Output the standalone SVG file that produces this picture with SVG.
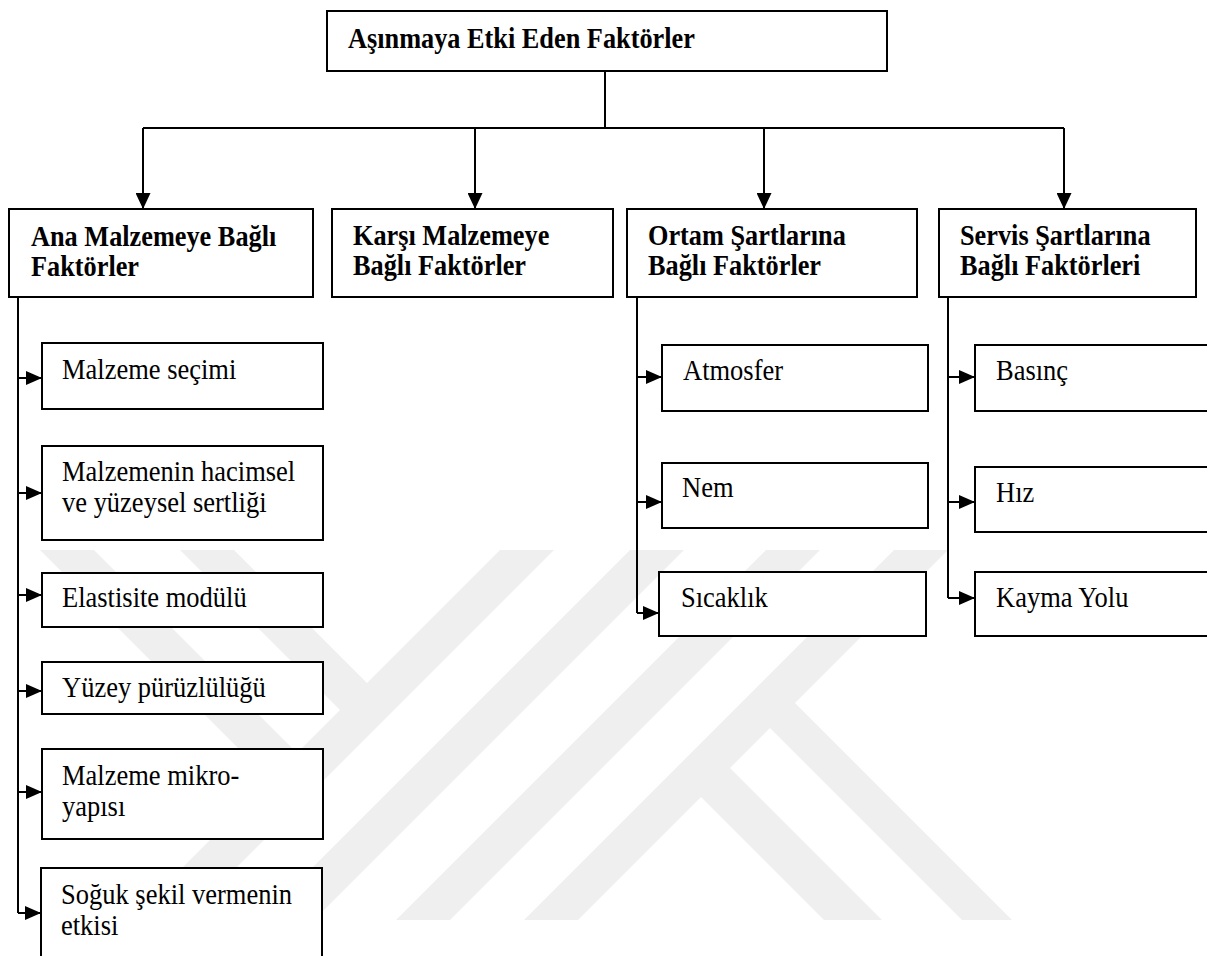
<svg xmlns="http://www.w3.org/2000/svg" width="1207" height="956" viewBox="0 0 1207 956">
<style>
.box{fill:#fff;stroke:#000;stroke-width:2}
.wm{fill:#efefef}
.ln{fill:none;stroke:#000;stroke-width:2}
.b{font-family:"Liberation Serif","Times New Roman",serif;font-weight:bold;font-size:26.3px;fill:#000}
.r{font-family:"Liberation Serif","Times New Roman",serif;font-size:26.5px;fill:#000}
</style>
<defs>
<marker id="ad" viewBox="0 0 10 10" refX="10" refY="5" markerWidth="16" markerHeight="15" markerUnits="userSpaceOnUse" orient="auto" preserveAspectRatio="none"><path d="M0,0 L10,5 L0,10 z" fill="#000"/></marker>
<marker id="as" viewBox="0 0 10 10" refX="10" refY="5" markerWidth="16" markerHeight="14" markerUnits="userSpaceOnUse" orient="auto" preserveAspectRatio="none"><path d="M0,0 L10,5 L0,10 z" fill="#000"/></marker>
</defs>
<rect width="1207" height="956" fill="#fff"/>
<g id="watermark">
<polygon class="wm" points="500,550 554,550 184,920 130,920"/>
<polygon class="wm" points="630,550 684,550 314,920 260,920"/>
<polygon class="wm" points="766,550 820,550 450,920 396,920"/>
<polygon class="wm" points="894,550 948,550 578,920 524,920"/>
<polygon class="wm" points="180,550 234,550 380,696 353,723"/>
<polygon class="wm" points="40,550 94,550 310,766 283,793"/>
<polygon class="wm" points="782,690 1012,920 962,920 757,715"/>
<polygon class="wm" points="717,755 882,920 824,920 688,784"/>
</g>
<g id="connectors">
<path class="ln" d="M605,71 V128 M143,128 H1064"/>
<path class="ln" d="M143,128 V209" marker-end="url(#ad)"/>
<path class="ln" d="M475,128 V209" marker-end="url(#ad)"/>
<path class="ln" d="M764,128 V209" marker-end="url(#ad)"/>
<path class="ln" d="M1064,128 V209" marker-end="url(#ad)"/>
<path class="ln" d="M18,297 V913"/>
<path class="ln" d="M18,378 H42" marker-end="url(#as)"/>
<path class="ln" d="M18,493 H42" marker-end="url(#as)"/>
<path class="ln" d="M18,595 H42" marker-end="url(#as)"/>
<path class="ln" d="M18,691 H42" marker-end="url(#as)"/>
<path class="ln" d="M18,792 H42" marker-end="url(#as)"/>
<path class="ln" d="M18,913 H41" marker-end="url(#as)"/>
<path class="ln" d="M637,297 V613"/>
<path class="ln" d="M637,377 H662" marker-end="url(#as)"/>
<path class="ln" d="M637,502 H662" marker-end="url(#as)"/>
<path class="ln" d="M637,613 H659" marker-end="url(#as)"/>
<path class="ln" d="M948,297 V598"/>
<path class="ln" d="M948,377 H975" marker-end="url(#as)"/>
<path class="ln" d="M948,502 H975" marker-end="url(#as)"/>
<path class="ln" d="M948,598 H975" marker-end="url(#as)"/>
</g>
<g id="root">
<rect class="box" x="327" y="11" width="560" height="60"/>
<text class="b" transform="translate(348,48) scale(1,1.15)">Aşınmaya Etki Eden Faktörler</text>
</g>
<g id="ana">
<rect class="box" x="9" y="209" width="304" height="88"/>
<text class="b" transform="translate(31,246) scale(1,1.15)"><tspan x="0" y="0">Ana Malzemeye Bağlı</tspan><tspan x="0" y="26.1">Faktörler</tspan></text>
</g>
<g id="karsi">
<rect class="box" x="332" y="209" width="281" height="88"/>
<text class="b" transform="translate(353,245) scale(1,1.15)"><tspan x="0" y="0">Karşı Malzemeye</tspan><tspan x="0" y="26.1">Bağlı Faktörler</tspan></text>
</g>
<g id="ortam">
<rect class="box" x="627" y="209" width="290" height="88"/>
<text class="b" transform="translate(648,245) scale(1,1.15)"><tspan x="0" y="0">Ortam Şartlarına</tspan><tspan x="0" y="26.1">Bağlı Faktörler</tspan></text>
</g>
<g id="servis">
<rect class="box" x="939" y="209" width="257" height="88"/>
<text class="b" transform="translate(960,245) scale(1,1.15)"><tspan x="0" y="0">Servis Şartlarına</tspan><tspan x="0" y="26.1">Bağlı Faktörleri</tspan></text>
</g>
<g id="secim">
<rect class="box" x="42" y="343" width="281" height="66"/>
<text class="r" transform="translate(62,379) scale(1,1.15)">Malzeme seçimi</text>
</g>
<g id="sertlik">
<rect class="box" x="42" y="446" width="281" height="94"/>
<text class="r" transform="translate(62,481) scale(1,1.15)"><tspan x="0" y="0">Malzemenin hacimsel</tspan><tspan x="0" y="27">ve yüzeysel sertliği</tspan></text>
</g>
<g id="elastisite">
<rect class="box" x="42" y="573" width="281" height="54"/>
<text class="r" transform="translate(62,607) scale(1,1.15)">Elastisite modülü</text>
</g>
<g id="yuzey">
<rect class="box" x="42" y="662" width="281" height="52"/>
<text class="r" transform="translate(62,697) scale(1,1.15)">Yüzey pürüzlülüğü</text>
</g>
<g id="mikro">
<rect class="box" x="42" y="749" width="281" height="90"/>
<text class="r" transform="translate(62,785) scale(1,1.15)"><tspan x="0" y="0">Malzeme mikro-</tspan><tspan x="0" y="27">yapısı</tspan></text>
</g>
<g id="soguk">
<rect class="box" x="41" y="868" width="281" height="95"/>
<text class="r" transform="translate(61,904) scale(1,1.15)"><tspan x="0" y="0">Soğuk şekil vermenin</tspan><tspan x="0" y="27">etkisi</tspan></text>
</g>
<g id="atmosfer">
<rect class="box" x="662" y="345" width="266" height="66"/>
<text class="r" transform="translate(683,380) scale(1,1.15)">Atmosfer</text>
</g>
<g id="nem">
<rect class="box" x="662" y="463" width="266" height="65"/>
<text class="r" transform="translate(682,497) scale(1,1.15)">Nem</text>
</g>
<g id="sicaklik">
<rect class="box" x="659" y="572" width="267" height="64"/>
<text class="r" transform="translate(681,607) scale(1,1.15)">Sıcaklık</text>
</g>
<g id="basinc">
<rect class="box" x="975" y="345" width="240" height="66"/>
<text class="r" transform="translate(996,380) scale(1,1.15)">Basınç</text>
</g>
<g id="hiz">
<rect class="box" x="975" y="467" width="240" height="65"/>
<text class="r" transform="translate(996,502) scale(1,1.15)">Hız</text>
</g>
<g id="kayma">
<rect class="box" x="975" y="572" width="240" height="64"/>
<text class="r" transform="translate(996,607) scale(1,1.15)">Kayma Yolu</text>
</g>
</svg>
